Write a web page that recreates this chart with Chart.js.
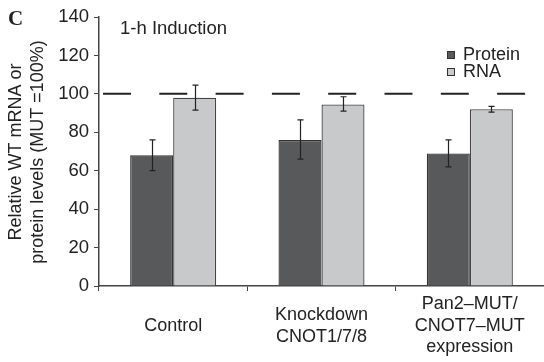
<!DOCTYPE html>
<html>
<head>
<meta charset="utf-8">
<script src="https://cdn.jsdelivr.net/npm/chart.js@4.4.1/dist/chart.umd.min.js"></script>
<style>
    html, body { margin: 0; padding: 0; background: #fff; }
    #wrap { width: 544px; height: 362px; position: relative; }
</style>
</head>
<body>
<div id="wrap"><canvas id="chart"></canvas></div>
<script>
const categories = [
    ["Control"],
    ["Knockdown", "CNOT1/7/8"],
    ["Pan2\u2013MUT/", "CNOT7\u2013MUT", "expression"],
];

const proteinValues = [68, 76, 69];
const proteinLow = [60, 66, 62];
const proteinHigh = [76, 86.5, 76];

const rnaValues = [98, 94.5, 92];
const rnaLow = [91.5, 91, 90.5];
const rnaHigh = [104.5, 98.5, 93.5];

const yTicks = [0, 20, 40, 60, 80, 100, 120, 140];
const referenceLevel = 100;

const FONT = "'Liberation Sans', Arial, sans-serif";
const TEXT_COLOR = "#222";
const AXIS_COLOR = "#444";

const errorBars = [
    { low: proteinLow, high: proteinHigh },
    { low: rnaLow, high: rnaHigh },
];

const extrasPlugin = {
    id: "extras",
    beforeDatasetsDraw(chart) {
        const { ctx, chartArea, scales } = chart;
        const y = scales.y.getPixelForValue(referenceLevel);
        ctx.save();
        ctx.strokeStyle = "#222";
        ctx.lineWidth = 2;
        ctx.setLineDash([28, 28.3]);
        ctx.beginPath();
        ctx.moveTo(chartArea.left + 4, y);
        ctx.lineTo(chartArea.right, y);
        ctx.stroke();
        ctx.restore();
    },
    afterDatasetsDraw(chart) {
        const { ctx, scales } = chart;
        ctx.save();
        ctx.strokeStyle = "#222";
        ctx.lineWidth = 1.2;
        errorBars.forEach((err, dsIndex) => {
            const meta = chart.getDatasetMeta(dsIndex);
            meta.data.forEach((bar, i) => {
                const x = Math.round(bar.x) + 0.5;
                const yTop = scales.y.getPixelForValue(err.high[i]);
                const yBottom = scales.y.getPixelForValue(err.low[i]);
                ctx.beginPath();
                ctx.moveTo(x, yTop);
                ctx.lineTo(x, yBottom);
                ctx.moveTo(x - 3, yTop);
                ctx.lineTo(x + 3, yTop);
                ctx.moveTo(x - 3, yBottom);
                ctx.lineTo(x + 3, yBottom);
                ctx.stroke();
            });
        });
        ctx.restore();
    },
    afterDraw(chart) {
        const { ctx, scales } = chart;
        ctx.save();
        ctx.fillStyle = TEXT_COLOR;

        // panel letter
        ctx.font = "bold 21px 'Liberation Serif', 'Times New Roman', serif";
        ctx.textAlign = "left";
        ctx.textBaseline = "alphabetic";
        ctx.fillText("C", 8, 25);

        // panel title
        ctx.font = "18.5px " + FONT;
        ctx.textBaseline = "middle";
        ctx.fillText("1-h Induction", 120, 29);

        // legend
        ctx.font = "18px " + FONT;
        const legendItems = [
            { label: "Protein", color: "#58595b", y: 55 },
            { label: "RNA", color: "#c8c9cb", y: 72 },
        ];
        legendItems.forEach(item => {
            ctx.fillStyle = item.color;
            ctx.fillRect(447, item.y - 4, 8, 8);
            ctx.strokeStyle = "#333";
            ctx.lineWidth = 1;
            ctx.strokeRect(447.5, item.y - 3.5, 7, 7);
            ctx.fillStyle = TEXT_COLOR;
            ctx.fillText(item.label, 463, item.y);
        });

        // x labels, centred vertically
        ctx.textAlign = "center";
        categories.forEach((lines, i) => {
            const x = scales.x.getPixelForValue(i);
            const lineHeight = 21.5;
            const startY = 326 - (lines.length - 1) * lineHeight / 2;
            lines.forEach((line, j) => {
                ctx.fillText(line, x, startY + j * lineHeight);
            });
        });

        // y axis title
        ctx.translate(27, 152);
        ctx.rotate(-Math.PI / 2);
        ctx.fillText("Relative WT mRNA or", 0, -11);
        ctx.fillText("protein levels (MUT =100%)", 0, 11);
        ctx.restore();
    },
};

new Chart(document.getElementById("chart"), {
    type: "bar",
    data: {
        labels: categories.map(c => c.join(" ")),
        datasets: [
            {
                label: "Protein",
                data: proteinValues,
                backgroundColor: "#58595b",
                borderColor: "#333",
                borderWidth: 1.3,
                borderSkipped: "bottom",
            },
            {
                label: "RNA",
                data: rnaValues,
                backgroundColor: "#c8c9cb",
                borderColor: "#444",
                borderWidth: 1.3,
                borderSkipped: "bottom",
            },
        ],
    },
    options: {
        responsive: true,
        maintainAspectRatio: false,
        animation: false,
        categoryPercentage: 0.58,
        barPercentage: 1.0,
        layout: { padding: { top: 17, right: 0, left: 0, bottom: 0 } },
        plugins: {
            legend: { display: false },
            tooltip: { enabled: false },
        },
        scales: {
            x: {
                afterFit(scale) { scale.height = 76; },
                grid: {
                    display: true,
                    drawOnChartArea: false,
                    drawTicks: true,
                    tickLength: 5,
                    color: AXIS_COLOR,
                    offset: true,
                },
                border: { display: true, color: AXIS_COLOR, width: 1.5 },
                ticks: { display: false },
            },
            y: {
                min: 0,
                max: 140,
                afterFit(scale) { scale.width = 99; },
                afterBuildTicks(scale) {
                    scale.ticks = yTicks.map(v => ({ value: v }));
                },
                grid: {
                    display: true,
                    drawOnChartArea: false,
                    drawTicks: true,
                    tickLength: 5,
                    color: AXIS_COLOR,
                },
                border: { display: true, color: AXIS_COLOR, width: 1.5 },
                ticks: {
                    padding: 5,
                    color: TEXT_COLOR,
                    font: { family: FONT, size: 18.5 },
                },
            },
        },
    },
    plugins: [extrasPlugin],
});
</script>
</body>
</html>
